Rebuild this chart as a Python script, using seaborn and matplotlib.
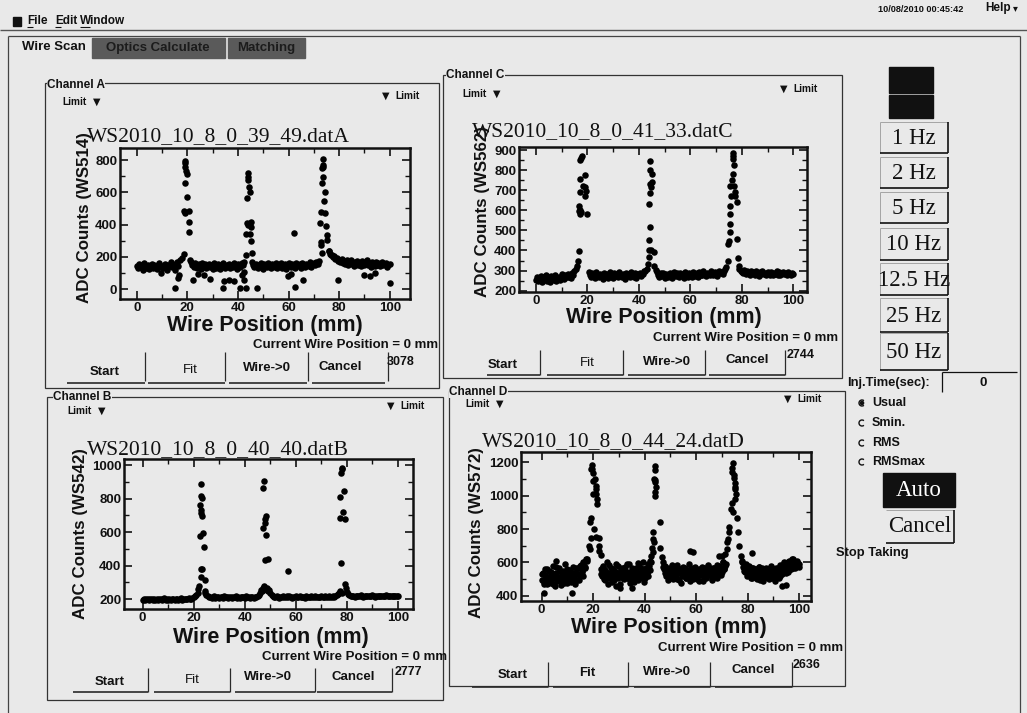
import matplotlib
matplotlib.use("Agg")
import matplotlib.pyplot as plt
import seaborn as sns
import pandas as pd
from matplotlib.patches import Rectangle, Arc, Circle
from matplotlib.ticker import MultipleLocator

# ---------------- data ----------------
wire_ticks = [0, 20, 40, 60, 80, 100]

# Channel A (WS514)
a_base_x = [0,0.5,1,1.5,2,2.5,3,3.5,4,4.5, 5,5.5,6,6.5,7,7.5,8,8.5,9,9.5,
            10,10.5,11,11.5,12,12.5,13,13.5,14,14.5, 15,15.5,16,16.5,17,
            21,21.5,22,22.5,23,23.5,24,24.5,25,25.5, 26,26.5,27,27.5,28,28.5,29,29.5,30,30.5,
            31,31.5,32,32.5,33,33.5,34,34.5,35,35.5, 36,36.5,37,37.5,38,38.5,39,39.5,40,40.5,
            41,41.5,42,42.5,
            45.5,46,46.5,47,47.5,48,48.5,49,49.5,50, 50.5,51,51.5,52,52.5,53,53.5,54,54.5,55,
            55.5,56,56.5,57,57.5,58,58.5,59,59.5,60, 60.5,61,61.5,62,62.5,63,63.5,64,64.5,65,
            65.5,66,66.5,67,67.5,68,68.5,69,69.5,70, 70.5,71,71.5,72,
            76,76.5,77,77.5,78,78.5,79,79.5,80,80.5, 81,81.5,82,82.5,83,83.5,84,84.5,85,85.5,
            86,86.5,87,87.5,88,88.5,89,89.5,90,90.5, 91,91.5,92,92.5,93,93.5,94,94.5,95,95.5,
            96,96.5,97,97.5,98,98.5,99,99.5,100]
a_base_y = [142,128,155,136,148,120,160,133,145,152, 126,140,158,131,147,138,124,150,162,135,
            144,129,156,139,121,151,143,165,134,148, 118,157,170,140,182,
            178,165,150,138,160,145,132,155,148,125, 162,140,153,130,147,158,136,150,127,161,
            144,133,156,149,122,139,163,146,131,152, 141,158,128,150,137,160,145,126,154,142,
            135,159,148,170,
            165,150,138,158,145,130,152,163,140,127, 155,148,135,160,142,131,157,146,138,162,
            128,150,144,159,133,148,156,125,141,163, 150,137,158,145,132,161,149,140,155,130,
            164,147,138,158,151,143,166,135,155,160, 148,170,158,175,
            235,220,210,198,205,185,192,175,180,168, 186,160,172,155,178,150,165,182,158,170,
            145,168,176,152,160,140,172,158,148,165, 180,150,162,138,170,155,145,168,152,160,
            140,158,170,148,155,162,135,150,158]
a_peak_x = [18.9,18.9,19.3,19.9,18.9,20,18.7,20.5,20.5,20.7,18.7,17.9,19.2,19.0,
            43.9,43.9,43.9,44.2,44.6,43.7,43.7,45,45,43.3,44.6,45.3,45.7,43.3,44.0,
            73.6,73.6,73.2,73.8,73.2,74.6,73.9,72.9,74.6,72.6,74.9,75.3,75.3,72.9,72.9,73.2,75.9,76.6,73.6]
a_peak_y = [794,779,732,711,655,573,484,484,413,356,215,190,470,760,
            717,697,676,635,604,562,407,413,387,339,339,300,221,211,395,
            804,759,752,697,655,604,546,480,473,411,391,335,304,294,273,221,236,211,770]
a_out_x = [9.7,15,16.3,16.7,22.2,24.2,24.6,26.6,28.8,34,34.4,36.3,38.4,40.7,41.6,42.4,42.4,43,
           47.6,59.7,60.8,62,62.4,65.7,79.5,90,92,94,100]
a_out_y = [97,4,66,87,56,91,138,87,62,4,52,56,50,8,87,107,56,8,
           8,81,91,345,14,56,56,87,81,97,35]

# Channel C (WS562)
c_base_x = [0,0.5,1,1.5,2,2.5,3,3.5,4,4.5, 5,5.5,6,6.5,7,7.5,8,8.5,9,9.5,
            10,10.5,11,11.5,12,12.5,13,13.5,14,14.5, 15,15.5,16,
            20.5,21,21.5,22,22.5,23,23.5,24,24.5,25, 25.5,26,26.5,27,27.5,28,28.5,29,29.5,30,
            30.5,31,31.5,32,32.5,33,33.5,34,34.5,35, 35.5,36,36.5,37,37.5,38,38.5,39,39.5,40,
            40.5,41,41.5,42,42.5,43,
            46.5,47,47.5,48,48.5,49,49.5,50,50.5,51, 51.5,52,52.5,53,53.5,54,54.5,55,55.5,56,
            56.5,57,57.5,58,58.5,59,59.5,60,60.5,61, 61.5,62,62.5,63,63.5,64,64.5,65,65.5,66,
            66.5,67,67.5,68,68.5,69,69.5,70,70.5,71, 71.5,72,72.5,73,73.5,74,
            79,79.5,80,80.5,81,81.5,82,82.5,83,83.5, 84,84.5,85,85.5,86,86.5,87,87.5,88,88.5,
            89,89.5,90,90.5,91,91.5,92,92.5,93,93.5, 94,94.5,95,95.5,96,96.5,97,97.5,98,98.5,
            99,99.5,100]
c_base_y = [255,270,248,262,275,244,266,258,280,250, 268,245,272,260,254,278,249,265,270,252,
            283,262,258,276,266,285,270,262,290,280, 300,310,325,
            295,280,270,288,275,262,292,278,268,285, 272,260,290,276,283,265,279,295,270,262,
            286,274,281,266,292,277,269,284,260,288, 275,282,267,293,279,270,287,262,281,276,
            290,272,284,296,300,310,
            305,292,280,268,286,275,290,262,283,277, 270,288,279,265,294,281,272,286,268,290,
            276,284,262,291,278,270,287,281,266,295, 283,274,289,268,292,280,276,297,285,271,
            290,282,277,300,286,279,293,284,275,298, 288,292,283,300,310,320,
            310,300,295,288,302,282,296,290,278,300, 286,294,280,298,288,275,292,284,299,281,
            290,276,295,287,280,293,278,289,284,297, 280,291,276,288,294,282,286,279,292,283,
            276,288,282]
c_peak_x = [16.4,16.7,17.1,16.7,17.6,19.9,16.7,17.3,19.2,18.4,17.3,19.3,17.3,18,17.6,19.7,19.3,17.0,
            44.2,44.2,45.1,45.1,44.8,44.2,43.8,44.2,43.8,43.8,44.9,45.8,43.8,43.6,46,44.5,
            76.6,76.6,76.8,76.5,76.2,75.5,76.8,77.5,77.5,78.1,75.8,75.5,75.5,75.5,75.5,74.9,74.5,78.1,74.5,78.4,78.8,76.6]
c_peak_y = [350,396,582,599,591,582,624,690,674,724,757,774,849,873,862,699,716,600,
            845,802,782,740,716,686,632,516,454,403,400,391,366,333,325,730,
            885,857,824,782,752,724,724,691,674,641,674,624,582,533,491,449,433,458,350,361,325,870]

# Channel B (WS542)
b_base_x = [0,0.5,1,1.5,2,2.5,3,3.5,4,4.5, 5,5.5,6,6.5,7,7.5,8,8.5,9,9.5,
            10,10.5,11,11.5,12,12.5,13,13.5,14,14.5, 15,15.5,16,16.5,17,17.5,18,18.5,19,19.5,
            20,20.5,21,
            24.5,25,25.5,26,26.5,27,27.5,28,28.5,29, 29.5,30,30.5,31,31.5,32,32.5,33,33.5,34,
            34.5,35,35.5,36,36.5,37,37.5,38,38.5,39, 39.5,40,40.5,41,41.5,42,42.5,43,43.5,44,
            44.5,45,45.5,46,46.5,
            49.5,50,50.5,51,51.5,52,52.5,53,53.5,54, 54.5,55,55.5,56,56.5,57,57.5,58,58.5,59,
            59.5,60,60.5,61,61.5,62,62.5,63,63.5,64, 64.5,65,65.5,66,66.5,67,67.5,68,68.5,69,
            69.5,70,70.5,71,71.5,72,72.5,73,73.5,74, 74.5,75,75.5,76,76.5,77,
            80,80.5,81,81.5,82,82.5,83,83.5,84,84.5, 85,85.5,86,86.5,87,87.5,88,88.5,89,89.5,
            90,90.5,91,91.5,92,92.5,93,93.5,94,94.5, 95,95.5,96,96.5,97,97.5,98,98.5,99,99.5,
            100]
b_base_y = [198,202,196,200,204,197,199,203,195,201, 198,204,196,200,202,197,199,205,196,201,
            198,203,197,200,204,196,199,202,198,201, 205,197,200,203,199,202,206,200,204,208,
            212,218,225,
            240,225,218,212,215,209,214,218,210,213, 216,208,212,215,210,217,211,214,209,216,
            212,208,215,211,217,210,213,209,216,212, 214,210,217,211,213,209,215,212,210,216,
            213,218,225,240,255,
            255,240,228,220,216,212,218,214,210,216, 213,219,211,215,217,212,218,214,210,216,
            213,217,211,215,219,212,214,216,210,218, 213,215,211,217,214,212,219,215,213,216,
            211,218,214,212,217,215,213,219,216,214, 218,215,220,224,230,238,
            245,232,225,220,218,222,216,219,221,217, 220,223,218,216,221,219,222,217,220,218,
            223,219,216,221,220,218,222,217,219,221, 218,223,220,217,222,219,221,218,220,222,
            219]
b_peak_x = [22.7,22.7,23.1,22.4,22.7,23.1,22.4,23.7,24,22.7,23.1,22.8,24.4,22.1,21.8,21.5,24.6,23.0,
            47.6,47.3,48.2,47.9,47.9,47.3,48.4,47.9,49,47.0,47.6,48,48.6,47.3,48.9,46.8,49.2,
            78.1,77.7,77.9,78.8,77.5,78.4,77.5,79.2,77.7,79.4,77.5,78.0,79.6,57.1]
b_peak_y = [885,815,805,760,716,696,577,597,514,379,379,335,315,279,260,240,250,730,
            905,861,696,676,657,627,581,434,442,269,279,260,265,255,258,248,250,
            980,950,975,845,811,720,686,680,418,289,250,240,270,369]

# Channel D (WS572): two interleaved sweeps of readings
d_base_x = [0,0.5,1,1.5,2,2.5,3,3.5,4,4.5, 5,5.5,6,6.5,7,7.5,8,8.5,9,9.5,
            10,10.5,11,11.5,12,12.5,13,13.5,14,14.5, 15,15.5,16,16.5,17,17.5,
            23,23.5,24,24.5,25,25.5,26,26.5,27,27.5, 28,28.5,29,29.5,30,30.5,31,31.5,32,32.5,
            33,33.5,34,34.5,35,35.5,36,36.5,37,37.5, 38,38.5,39,39.5,40,40.5,41,41.5,42,42.5,
            47,47.5,48,48.5,49,49.5,50,50.5,51,51.5, 52,52.5,53,53.5,54,54.5,55,55.5,56,56.5,
            57,57.5,58,58.5,59,59.5,60,60.5,61,61.5, 62,62.5,63,63.5,64,64.5,65,65.5,66,66.5,
            67,67.5,68,68.5,69,69.5,70,70.5,71,71.5,
            77.5,78,78.5,79,79.5,80,80.5,81,81.5,82, 82.5,83,83.5,84,84.5,85,85.5,86,86.5,87,
            87.5,88,88.5,89,89.5,90,90.5,91,91.5,92, 92.5,93,93.5,94,94.5,95,95.5,96,96.5,97,
            97.5,98,98.5,99,99.5,100]
d_base_y = [495,540,470,525,560,505,480,545,515,470, 530,575,490,512,548,465,525,500,590,535,
            478,520,555,498,540,510,472,565,530,495, 580,545,520,600,565,610,
            560,520,580,495,545,600,510,530,565,485, 550,520,590,505,540,470,560,530,500,575,
            545,515,590,480,530,555,505,570,540,495, 580,525,550,600,510,565,535,590,555,600,
            600,560,580,530,555,510,570,540,500,560, 525,585,545,495,560,520,575,540,505,555,
            530,490,565,545,515,575,535,500,560,525, 550,490,570,540,515,580,530,555,500,565,
            540,520,585,550,530,570,545,600,560,590,
            640,600,570,545,560,525,580,540,510,565, 530,555,500,545,575,520,550,490,540,565,
            515,555,530,580,505,545,520,570,540,510, 585,555,530,600,560,575,545,610,580,560,
            620,590,570,600,585,575]
d_base2_x = [0.25,0.75,1.25,1.75,2.25,2.75,3.25,3.75,4.25,4.75,
             5.25,5.75,6.25,6.75,7.25,7.75,8.25,8.75,9.25,9.75,
             10.25,10.75,11.25,11.75,12.25,12.75,13.25,13.75,14.25,14.75,
             15.25,15.75,16.25,16.75,17.25,
             23.25,23.75,24.25,24.75,25.25,25.75,26.25,26.75,27.25,27.75,
             28.25,28.75,29.25,29.75,30.25,30.75,31.25,31.75,32.25,32.75,
             33.25,33.75,34.25,34.75,35.25,35.75,36.25,36.75,37.25,37.75,
             38.25,38.75,39.25,39.75,40.25,40.75,41.25,41.75,42.25,
             47.25,47.75,48.25,48.75,49.25,49.75,50.25,50.75,51.25,51.75,
             52.25,52.75,53.25,53.75,54.25,54.75,55.25,55.75,56.25,56.75,
             57.25,57.75,58.25,58.75,59.25,59.75,60.25,60.75,61.25,61.75,
             62.25,62.75,63.25,63.75,64.25,64.75,65.25,65.75,66.25,66.75,
             67.25,67.75,68.25,68.75,69.25,69.75,70.25,70.75,71.25,
             77.75,78.25,78.75,79.25,79.75,80.25,80.75,81.25,81.75,82.25,
             82.75,83.25,83.75,84.25,84.75,85.25,85.75,86.25,86.75,87.25,
             87.75,88.25,88.75,89.25,89.75,90.25,90.75,91.25,91.75,92.25,
             92.75,93.25,93.75,94.25,94.75,95.25,95.75,96.25,96.75,97.25,
             97.75,98.25,98.75,99.25,99.75]
d_base2_y = [530,485,560,505,472,548,520,495,580,510, 462,538,505,570,488,525,552,478,515,560,
             500,545,485,528,575,510,540,498,568,522, 585,550,600,575,620,
             530,575,500,555,525,470,585,540,510,560, 495,545,525,580,450,535,565,505,550,520,
             590,500,545,530,565,485,555,520,595,540, 505,570,530,485,560,545,520,580,610,
             575,540,520,565,495,550,530,585,510,545, 570,500,535,560,480,545,525,565,505,550,
             590,520,540,500,570,535,515,555,490,545, 575,520,560,505,540,585,525,550,495,570,
             535,560,510,580,545,525,605,560,580,
             610,575,550,590,520,560,535,505,570,545, 515,560,530,575,495,540,565,510,550,525,
             560,500,545,575,520,555,490,535,565,545, 520,580,550,595,535,570,600,555,590,620,
             565,600,580,610,590]
d_peak_x = [19.4,19.6,19.9,20.7,19.9,21,21.2,21,21.6,21.6,19,18.6,20.3,21.2,22.3,19,18.4,18.6,22.3,22.3,22.9,17.7,20.0,19.2,
            44,44,43.6,44.2,44.5,44.2,44.2,45.8,43.3,43.3,43.5,42.7,43.3,45.8,46.6,42.3,44.0,
            74.3,74,73.8,74.6,75,75,75.3,75,74,73.6,74.4,75.9,72.7,72.9,72.4,72,76.3,76.6,72,71.4,70.1,74.8,75.2]
d_peak_y = [1180,1156,1132,1101,1087,1057,1041,1007,978,948,863,843,799,755,749,749,700,680,700,670,644,620,1010,1160,
            1176,1152,1101,1081,1053,1021,997,843,783,743,724,684,660,684,631,641,1090,
            1192,1166,1140,1107,1077,1037,1007,978,954,919,899,863,810,780,740,720,780,700,680,650,640,1120,1050]
d_out_x = [0.9,11.9,5.7,57.8,58.7,68.8,81.5,93.4,94.7,35,29]
d_out_y = [418,418,610,670,660,640,656,461,466,445,460]

titles = ["WS2010_10_8_0_39_49.datA", "WS2010_10_8_0_41_33.datC",
          "WS2010_10_8_0_40_40.datB", "WS2010_10_8_0_44_24.datD"]
ylabels = ["ADC Counts (WS514)", "ADC Counts (WS562)", "ADC Counts (WS542)", "ADC Counts (WS572)"]
channels = ["Channel A", "Channel C", "Channel B", "Channel D"]
counts = ["3078", "2744", "2777", "2636"]
a_yticks = [0, 200, 400, 600, 800]
c_yticks = [200, 300, 400, 500, 600, 700, 800, 900]
b_yticks = [200, 400, 600, 800, 1000]
d_yticks = [400, 600, 800, 1000, 1200]
rates = ["1 Hz", "2 Hz", "5 Hz", "10 Hz", "12.5 Hz", "25 Hz", "50 Hz"]
modes = ["Usual", "Smin.", "RMS", "RMSmax"]

# ---------------- styling ----------------
sns.set_theme(style="ticks")
SANS = ["Liberation Sans", "DejaVu Sans"]
SERIF = ["Liberation Serif", "DejaVu Serif"]
plt.rcParams["font.family"] = SANS

W, H = 1027, 713
BG = "#e9e9e9"
INK = "#111111"
fig = plt.figure(figsize=(W / 100, H / 100), dpi=100, facecolor=BG)
gui = fig.add_axes([0, 0, 1, 1])
gui.set_xlim(0, W)
gui.set_ylim(H, 0)
gui.axis("off")


def txt(x, y, s, size=9, weight="bold", family=SANS, ha="left", va="center", color=INK, **kw):
    return gui.text(x, y, s, fontsize=size, fontweight=weight, family=family,
                    ha=ha, va=va, color=color, **kw)


def line(xs, ys, lw=1.0, color="#2a2a2a"):
    gui.plot(xs, ys, color=color, lw=lw, solid_capstyle="butt")


# menu bar
gui.add_patch(Rectangle((13, 17), 8, 9, color=INK))
txt(27, 21, "File", 8.5)
txt(55, 21, "Edit", 8.5)
txt(80, 21, "Window", 8.5)
for x0, x1 in [(27, 33), (55, 61), (80, 90)]:
    line([x0, x1], [27, 27], lw=0.8, color=INK)
txt(878, 9, "10/08/2010 00:45:42", 6.6)
txt(985, 8, "Help", 8.5)
txt(1013, 8, "\u25be", 7, family=["DejaVu Sans"])
line([0, W], [29.5, 29.5], lw=1.0, color="#555555")

# outer frame
line([8, 1020], [36, 36], lw=0.9, color="#444444")
line([8, 8], [36, H], lw=0.9, color="#444444")
line([1020, 1020], [36, H], lw=0.9, color="#444444")

# tabs
txt(22, 47, "Wire Scan", 9.5)
gui.add_patch(Rectangle((92, 38), 133, 20, color="#5a5a5a"))
gui.add_patch(Rectangle((228, 38), 77, 20, color="#5a5a5a"))
txt(158, 48, "Optics Calculate", 9.5, ha="center", color="#1c1c1c")
txt(266, 48, "Matching", 9.5, ha="center", color="#1c1c1c")

# right-hand control column
gui.add_patch(Rectangle((889, 67), 44, 26, color=INK))
gui.add_patch(Rectangle((889, 95), 44, 23, color=INK))
rate_boxes = [(122, 153), (157, 188), (192, 223), (228, 260), (263, 295), (298, 332), (333, 370)]
for lab, (y0, y1) in zip(rates, rate_boxes):
    line([880, 948], [y0, y0], lw=0.6, color="#9a9a9a")
    line([880, 880], [y0, y1], lw=0.6, color="#9a9a9a")
    line([948, 948], [y0, y1], lw=1.2, color=INK)
    line([880, 948], [y1, y1], lw=1.2, color=INK)
    txt(914, (y0 + y1) / 2 + 1, lab, 16.5, weight="normal", family=SERIF, ha="center")

txt(847, 383, "Inj.Time(sec):", 9.3)
line([942, 942], [372, 392], lw=0.9, color=INK)
line([942, 1017], [372, 372], lw=0.9, color=INK)
txt(983, 383, "0", 9.5, ha="center")
for i, (lab, yy) in enumerate(zip(modes, [403, 423, 443, 462])):
    gui.add_patch(Arc((862, yy), 6, 6, theta1=50, theta2=310, color=INK, lw=1.0))
    if i == 0:
        gui.add_patch(Circle((862, yy), 1.6, color=INK))
    txt(872, yy, lab, 9)
gui.add_patch(Rectangle((883, 473), 72, 34, color=INK))
txt(919, 490, "Auto", 16.5, weight="normal", family=SERIF, ha="center", color="white")
line([886, 954], [510, 510], lw=0.6, color="#9a9a9a")
line([954, 954], [510, 543], lw=1.2, color=INK)
line([886, 954], [543, 543], lw=1.2, color=INK)
txt(920, 526, "Cancel", 16.5, weight="normal", family=SERIF, ha="center")
txt(836, 553, "Stop Taking", 9.3)

# ---------------- the four channel panels ----------------
panels = [
    dict(bx=a_base_x, by=a_base_y, px=a_peak_x + a_out_x, py=a_peak_y + a_out_y,
         box=(120, 148, 410, 299), xlim=(-6.6, 108), ylim=(-62, 875), yt=a_yticks, ym=100,
         title=(87, 137), ylab=(85, 218), xlab=(265, 325), cwp=(438, 345), cnt=(387, 362),
         frame=(45, 83, 439, 388), chan=(47, 85), limL=(62, 102), limR=(420, 96),
         btn=[(105, 372, "Start", "bold"), (190, 370, "Fit", "normal"),
              (267, 368, "Wire->0", "bold"), (340, 367, "Cancel", "bold")],
         seps=[145, 225, 308, 388], sep_y=(352, 381), under_y=383,
         under=[(67, 145), (148, 225), (229, 307), (312, 385)]),
    dict(bx=c_base_x, by=c_base_y, px=c_peak_x, py=c_peak_y,
         box=(519, 147, 807, 292), xlim=(-6.5, 105.3), ylim=(193, 916), yt=c_yticks, ym=50,
         title=(472, 132), ylab=(483, 212), xlab=(664, 318), cwp=(838, 338), cnt=(787, 355),
         frame=(443, 75, 842, 378), chan=(446, 75), limL=(462, 94), limR=(818, 89),
         btn=[(503, 365, "Start", "bold"), (587, 363, "Fit", "normal"),
              (667, 362, "Wire->0", "bold"), (747, 360, "Cancel", "bold")],
         seps=[540, 623, 705, 785], sep_y=(350, 375), under_y=375,
         under=[(487, 540), (547, 623), (628, 705), (709, 785)]),
    dict(bx=b_base_x, by=b_base_y, px=b_peak_x, py=b_peak_y,
         box=(124, 459, 413, 609), xlim=(-7.3, 105.9), ylim=(142, 1036), yt=b_yticks, ym=100,
         title=(87, 450), ylab=(80, 534), xlab=(271, 637), cwp=(447, 657), cnt=(395, 672),
         frame=(47, 397, 443, 700), chan=(53, 397), limL=(67, 411), limR=(425, 406),
         btn=[(110, 682, "Start", "bold"), (192, 680, "Fit", "normal"),
              (268, 677, "Wire->0", "bold"), (353, 677, "Cancel", "bold")],
         seps=[148, 230, 315, 392], sep_y=(668, 692), under_y=692,
         under=[(73, 148), (154, 230), (235, 315), (317, 392)]),
    dict(bx=d_base_x + d_base2_x, by=d_base_y + d_base2_y,
         px=d_peak_x + d_out_x, py=d_peak_y + d_out_y,
         box=(521, 452, 811, 601), xlim=(-8, 104.6), ylim=(370, 1260), yt=d_yticks, ym=100,
         title=(482, 442), ylab=(477, 533), xlab=(669, 628), cwp=(843, 648), cnt=(793, 665),
         frame=(449, 391, 845, 686), chan=(449, 392), limL=(465, 404), limR=(822, 399),
         btn=[(513, 675, "Start", "bold"), (587, 673, "Fit", "bold"),
              (667, 672, "Wire->0", "bold"), (753, 670, "Cancel", "bold")],
         seps=[548, 628, 710, 792], sep_y=(662, 687), under_y=687,
         under=[(472, 548), (553, 628), (634, 710), (715, 792)]),
]

for i, p in enumerate(panels):
    # frame + labels of the panel
    l, t, r, b = p["frame"]
    gui.add_patch(Rectangle((l, t), r - l, b - t, fill=False, ec="#333333", lw=0.9))
    txt(p["chan"][0], p["chan"][1], channels[i], 8.5,
        bbox=dict(facecolor=BG, edgecolor="none", pad=0.3))
    txt(p["limL"][0], p["limL"][1], "Limit", 7.3)
    txt(p["limL"][0] + 31, p["limL"][1], "\u25bc", 7, family=["DejaVu Sans"])
    txt(p["limR"][0], p["limR"][1], "Limit", 7.3, ha="right")
    txt(p["limR"][0] - 38, p["limR"][1], "\u25bc", 7, family=["DejaVu Sans"])
    txt(p["title"][0], p["title"][1], titles[i], 15.5, weight="normal", family=SERIF)
    txt(p["ylab"][0], p["ylab"][1], ylabels[i], 12.2, ha="center", rotation=90)
    txt(p["xlab"][0], p["xlab"][1], "Wire Position (mm)", 15.5, ha="center")
    txt(p["cwp"][0], p["cwp"][1], "Current Wire Position = 0 mm", 9.5, ha="right")
    txt(p["cnt"][0], p["cnt"][1], counts[i], 9)
    for bx_, by_, s, w in p["btn"]:
        txt(bx_, by_, s, 9.5, weight=w, ha="center")
    for sx in p["seps"]:
        line([sx, sx], list(p["sep_y"]), lw=0.9)
    for u0, u1 in p["under"]:
        line([u0, u1], [p["under_y"], p["under_y"]], lw=1.2)

    # the scan itself
    n = min(len(p["bx"]), len(p["by"]))
    m = min(len(p["px"]), len(p["py"]))
    df = pd.DataFrame({"pos": list(p["bx"][:n]) + list(p["px"][:m]),
                       "adc": list(p["by"][:n]) + list(p["py"][:m])})
    x0, y0, x1, y1 = p["box"]
    ax = fig.add_axes([x0 / W, 1 - y1 / H, (x1 - x0) / W, (y1 - y0) / H])
    ax.set_facecolor(BG)
    sns.scatterplot(data=df, x="pos", y="adc", ax=ax, color="black", s=22,
                    linewidth=0, legend=False)
    ax.set_xlim(*p["xlim"])
    ax.set_ylim(*p["ylim"])
    ax.set_xticks(wire_ticks)
    ax.set_yticks(p["yt"])
    ax.xaxis.set_minor_locator(MultipleLocator(10))
    ax.yaxis.set_minor_locator(MultipleLocator(p["ym"]))
    ax.set_xlabel("")
    ax.set_ylabel("")
    ax.tick_params(which="major", direction="in", top=True, right=True, length=6,
                   width=1.2, labelsize=9.5, pad=2, colors=INK)
    ax.tick_params(which="minor", direction="in", top=True, right=True, length=3.5,
                   width=1.0, colors=INK)
    for lab in ax.get_xticklabels() + ax.get_yticklabels():
        lab.set_fontweight("bold")
    for sp in ax.spines.values():
        sp.set_visible(True)
        sp.set_linewidth(1.8)
        sp.set_color(INK)

fig.savefig("out.png", dpi=100, facecolor=BG)
